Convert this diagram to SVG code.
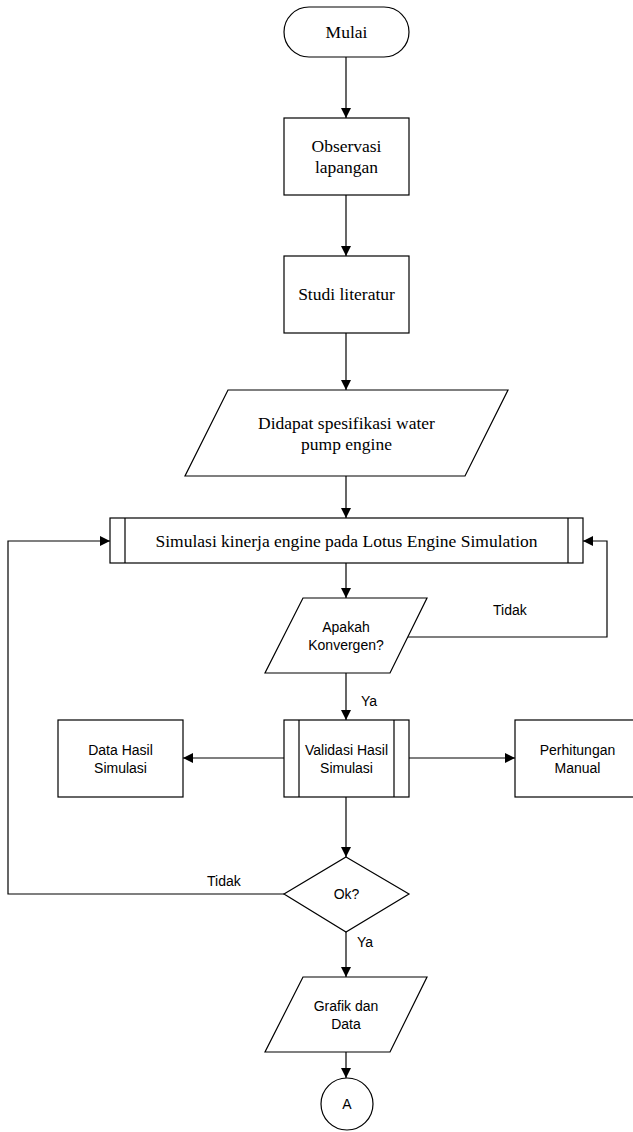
<svg xmlns="http://www.w3.org/2000/svg" width="633" height="1132" viewBox="0 0 633 1132">
<style>
.s{fill:#fff;stroke:#000;stroke-width:1.2}
.g{fill:none;stroke:#666;stroke-width:1.2}
.c{fill:none;stroke:#000;stroke-width:1.2}
.t{font-family:"Liberation Serif","Times New Roman",serif;font-size:17.5px;fill:#000;text-anchor:middle}
.a{font-family:"Liberation Sans",Arial,sans-serif;font-size:14px;fill:#000;text-anchor:middle}
.l{font-family:"Liberation Sans",Arial,sans-serif;font-size:14px;fill:#000}
</style>
<defs>
<marker id="ar" viewBox="0 0 10 10" refX="10" refY="5" markerWidth="10" markerHeight="10" markerUnits="userSpaceOnUse" orient="auto">
<path d="M0,0 L10,5 L0,10 z" fill="#000"/>
</marker>
</defs>
<g id="connectors">
<path class="c" d="M346,57 V118" marker-end="url(#ar)"/>
<path class="c" d="M346,195 V256" marker-end="url(#ar)"/>
<path class="c" d="M346,333 V390" marker-end="url(#ar)"/>
<path class="c" d="M346,476 V518" marker-end="url(#ar)"/>
<path class="c" d="M346,563 V598" marker-end="url(#ar)"/>
<path class="c" d="M407,637 H607 V541 H583" marker-end="url(#ar)"/>
<path class="c" d="M346,673 V720" marker-end="url(#ar)"/>
<path class="c" d="M284,758 H183" marker-end="url(#ar)"/>
<path class="c" d="M409,758 H515" marker-end="url(#ar)"/>
<path class="c" d="M346,797 V857" marker-end="url(#ar)"/>
<path class="c" d="M284,894 H8 V541 H110" marker-end="url(#ar)"/>
<path class="c" d="M346,932 V977" marker-end="url(#ar)"/>
<path class="c" d="M346,1052 V1078" marker-end="url(#ar)"/>
<text class="l" x="493" y="615">Tidak</text>
<text class="l" x="361" y="706">Ya</text>
<text class="l" x="207" y="886">Tidak</text>
<text class="l" x="357" y="947">Ya</text>
</g>
<g id="mulai">
<rect class="s" x="284" y="7" width="125" height="50" rx="25" ry="25"/>
<text class="t" x="346.5" y="38">Mulai</text>
</g>
<g id="observasi">
<rect class="s" x="284" y="118" width="125" height="77"/>
<text class="t" x="346.5" y="152">Observasi</text>
<text class="t" x="346.5" y="173">lapangan</text>
</g>
<g id="studi">
<rect class="s" x="284" y="256" width="125" height="77"/>
<text class="t" x="346.5" y="300">Studi literatur</text>
</g>
<g id="didapat">
<path class="s" d="M228,390 H508 L465,476 H185 Z"/>
<text class="t" x="346.5" y="429">Didapat spesifikasi water</text>
<text class="t" x="346.5" y="450">pump engine</text>
</g>
<g id="simulasi">
<rect class="s" x="110" y="518" width="473" height="45"/>
<path class="c" d="M125,518 V563 M568,518 V563"/>
<text class="t" x="346.5" y="547">Simulasi kinerja engine pada Lotus Engine Simulation</text>
</g>
<g id="apakah">
<path class="s" d="M303,598 H427 L390,673 H265 Z"/>
<text class="a" x="346" y="632">Apakah</text>
<text class="a" x="346" y="650">Konvergen?</text>
</g>
<g id="validasi">
<rect class="s" x="284" y="720" width="125" height="77"/>
<path class="c" d="M299,720 V797 M394,720 V797"/>
<text class="a" x="346.5" y="755">Validasi Hasil</text>
<text class="a" x="346.5" y="773">Simulasi</text>
</g>
<g id="datahasil">
<rect class="s" x="58" y="720" width="125" height="77"/>
<text class="a" x="120.5" y="755">Data Hasil</text>
<text class="a" x="120.5" y="773">Simulasi</text>
</g>
<g id="perhitungan">
<rect class="s" x="515" y="720" width="125" height="77"/>
<text class="a" x="577.5" y="755">Perhitungan</text>
<text class="a" x="577.5" y="773">Manual</text>
</g>
<g id="ok">
<path class="s" d="M346,857 L409,894 L346,932 L284,894 Z"/>
<text class="a" x="346.5" y="899">Ok?</text>
</g>
<g id="grafik">
<path class="s" d="M303,977 H427 L390,1052 H265 Z"/>
<text class="a" x="346" y="1011">Grafik dan</text>
<text class="a" x="346" y="1029">Data</text>
</g>
<g id="connectorA">
<circle class="s" cx="347" cy="1104" r="26"/>
<text class="a" x="347" y="1109">A</text>
</g>
</svg>
